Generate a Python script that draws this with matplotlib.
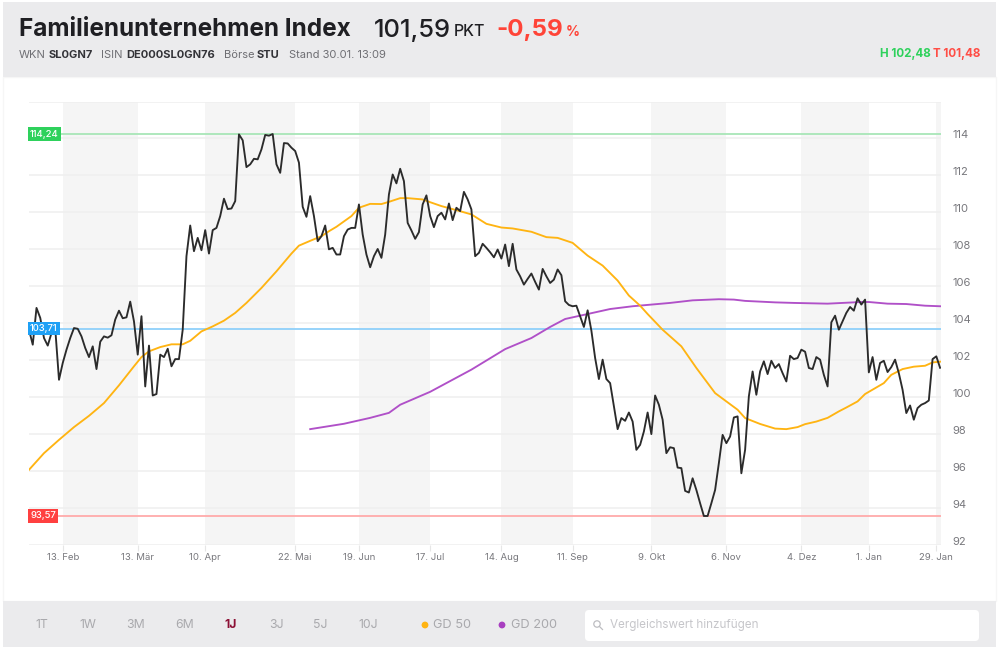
import matplotlib
matplotlib.use('Agg')
import matplotlib.pyplot as plt
from matplotlib.patches import Rectangle, FancyBboxPatch, Circle
from matplotlib.transforms import ScaledTranslation

plt.rcParams['font.family'] = ['Inter', 'DejaVu Sans']

close = [
    103.65, 102.84, 104.83, 104.29, 103.2, 102.79, 103.47, 103.7, 100.94, 101.85,
    102.57, 103.2, 103.74, 103.7, 103.29, 102.66, 102.17, 102.75, 101.52, 103.0,
    103.29, 103.22, 103.35, 104.2, 104.68, 104.27, 104.32, 105.17, 104.1, 102.3,
    104.38, 100.58, 102.79, 100.09, 100.17, 102.3, 102.17, 102.62, 101.67, 102.06,
    102.06, 103.65, 107.63, 109.29, 107.9, 108.62, 107.95, 109.04, 107.77, 109.04,
    109.16, 109.8, 110.74, 110.18, 110.21, 110.61, 114.22, 113.9, 112.45, 112.6,
    112.9, 112.87, 113.41, 114.19, 114.15, 114.24, 112.6, 112.14, 113.75, 113.73,
    113.5, 113.32, 112.69, 110.3, 109.76, 110.88, 109.8, 108.44, 108.71, 109.29,
    108.0, 108.08, 107.72, 107.72, 108.71, 109.07, 109.16, 109.16, 110.43, 108.8,
    107.72, 107.03, 107.63, 108.02, 107.54, 108.8, 110.97, 112.05, 111.57, 112.36,
    111.69, 109.43, 109.02, 108.57, 108.93, 110.43, 110.92, 109.8, 109.2, 109.8,
    109.98, 109.62, 110.48, 109.58, 110.25, 110.07, 111.11, 110.7, 110.16, 107.63,
    107.81, 108.3, 108.08, 107.84, 107.57, 107.99, 107.5, 108.26, 107.09, 108.3,
    106.91, 106.54, 106.09, 106.4, 106.69, 106.24, 105.82, 106.94, 106.54, 106.18,
    106.36, 106.91, 106.6, 105.19, 104.99, 104.92, 104.95, 104.38, 103.8, 104.7,
    103.6, 102.12, 100.98, 102.03, 100.98, 100.76, 99.5, 98.27, 98.87, 98.72,
    99.17, 98.68, 97.15, 97.42, 98.14, 99.17, 98.0, 100.09, 99.59, 98.78,
    96.97, 97.29, 97.24, 96.19, 96.16, 94.93, 94.84, 95.61, 94.98, 94.26,
    93.57, 93.57, 94.26, 94.98, 96.43, 97.96, 97.51, 97.87, 98.9, 98.96,
    95.88, 97.15, 100.04, 101.39, 100.13, 101.39, 101.94, 101.25, 101.97, 101.58,
    101.79, 101.3, 100.85, 102.24, 102.06, 102.12, 102.57, 102.46, 101.58, 101.52,
    102.17, 102.03, 101.21, 100.58, 104.05, 104.41, 103.65, 104.1, 104.56, 104.88,
    104.68, 105.35, 105.01, 105.28, 101.34, 102.17, 100.94, 101.85, 101.97, 101.36,
    101.63, 102.03, 101.3, 100.4, 99.14, 99.55, 98.78, 99.41, 99.59, 99.68,
    99.82, 102.06, 102.21, 101.59,
]

gd50_days = [
    0, 4, 8, 12, 16, 20, 24, 28, 30, 32, 35, 38, 41, 43, 46, 49, 52, 55, 58, 62,
    66, 70, 72, 75, 78, 80, 82, 86, 88, 91, 94, 96, 99, 101, 105, 107, 110, 114, 118, 122,
    126, 129, 134, 138, 141, 145, 149, 153, 157, 160, 163, 165, 169, 174, 178, 183, 189, 191, 195, 199,
    202, 205, 207, 210, 213, 216, 218, 221, 223, 228, 230, 233, 236, 239, 241, 243,
]
gd50 = [
    96.07, 96.97, 97.69, 98.38, 98.99, 99.68, 100.64, 101.67, 102.17, 102.48,
    102.71, 102.86, 102.86, 103.05, 103.56, 103.83, 104.14, 104.56, 105.1, 105.91,
    106.81, 107.77, 108.2, 108.46, 108.71, 108.98, 109.22, 109.8, 110.25, 110.46,
    110.45, 110.57, 110.77, 110.77, 110.7, 110.55, 110.34, 110.12, 109.89, 109.38,
    109.18, 109.13, 108.95, 108.66, 108.62, 108.35, 107.66, 107.12, 106.31, 105.5,
    104.95, 104.5, 103.65, 102.75, 101.58, 100.22, 99.32, 98.87, 98.55, 98.3,
    98.27, 98.38, 98.54, 98.68, 98.88, 99.23, 99.44, 99.77, 100.17, 100.76,
    101.21, 101.52, 101.65, 101.7, 101.88, 101.92,
]

gd200_days = [
    75, 84, 91, 96, 99, 107, 118, 127, 134, 139, 143, 149, 155, 161,
    171, 177, 184, 188, 191, 199, 204, 213, 222, 224, 229, 234, 239, 243,
]
gd200 = [
    98.27, 98.56, 98.88, 99.15, 99.59, 100.29, 101.49, 102.6, 103.2, 103.8, 104.23, 104.5, 104.77, 104.92,
    105.1, 105.24, 105.3, 105.28, 105.21, 105.13, 105.1, 105.06, 105.15, 105.15, 105.06, 105.04, 104.95, 104.92,
]

tick_days = [9, 29, 47, 71, 88, 107, 126, 145, 166, 186, 206, 224, 242]
tick_labels = ['13. Feb', '13. Mär', '10. Apr', '22. Mai', '19. Jun', '17. Jul', '14. Aug',
               '11. Sep', '9. Okt', '6. Nov', '4. Dez', '1. Jan', '29. Jan']
y_ticks = [92, 94, 96, 98, 100, 102, 104, 106, 108, 110, 112, 114, 116]
y_labels = ['92', '94', '96', '98', '100', '102', '104', '106', '108', '110', '112', '114', '']

high_line = 114.24
mid_line = 103.71
low_line = 93.57

fig = plt.figure(figsize=(10, 6.5), dpi=100, facecolor='white')

# page furniture, in pixels of the 1000x650 picture
bg = fig.add_axes([0, 0, 1, 1])
bg.set_xlim(0, 1000)
bg.set_ylim(650, 0)
bg.axis('off')
PANEL = '#ebebed'
bg.add_patch(Rectangle((3, 77), 993, 524, fc='white', ec='#f6f6f6', lw=1))
bg.add_patch(Rectangle((3, 2), 993, 75, fc=PANEL, ec='none'))
bg.add_patch(Rectangle((3, 601), 993, 46, fc=PANEL, ec='none'))

bg.text(19, 30, 'Familienunternehmen Index', fontsize=17.5, fontweight='bold', color='#1f1f23', va='center')
bg.text(374, 30, '101,59', fontsize=18.4, fontweight='medium', color='#1f1f23', va='center')
bg.text(454, 32, 'PKT', fontsize=11.4, fontweight='medium', color='#1f1f23', va='center')
bg.text(496, 30, '-0,59', fontsize=17.4, fontweight='bold', color='#ff4438', va='center')
bg.text(566, 32, '%', fontsize=10, fontweight='bold', color='#ff4438', va='center')

grey_txt = '#6e6e73'
dark_txt = '#333338'
for x, s, w in [(19, 'WKN', 'normal'), (49, 'SL0GN7', 'bold'), (101, 'ISIN', 'normal'),
                (126, 'DE000SL0GN76', 'bold'), (224, 'Börse', 'normal'), (257, 'STU', 'bold'),
                (289, 'Stand 30.01. 13:09', 'normal')]:
    bg.text(x, 55, s, fontsize=8, fontweight=w, color=dark_txt if w == 'bold' else grey_txt, va='center')

bg.text(880, 54, 'H 102,48', fontsize=8.4, fontweight='bold', color='#2ed15c', va='center')
bg.text(980, 54, 'T 101,48', fontsize=8.4, fontweight='bold', color='#ff4d45', va='center', ha='right')

for x, s in [(42, '1T'), (88, '1W'), (136, '3M'), (185, '6M'), (276, '3J'), (320, '5J'), (368, '10J')]:
    bg.text(x, 625, s, fontsize=8.8, color='#a9a9ad', ha='center', va='center')
bg.text(231, 625, '1J', fontsize=8.8, fontweight='bold', color='#8c1035', ha='center', va='center')

bg.add_patch(Circle((425, 625), 3.4, fc='#ffb412', ec='none'))
bg.text(433, 625, 'GD 50', fontsize=9.2, color='#a9a9ad', va='center')
bg.add_patch(Circle((502, 625), 3.4, fc='#a83fc0', ec='none'))
bg.text(511, 625, 'GD 200', fontsize=9.2, color='#a9a9ad', va='center')

bg.add_patch(FancyBboxPatch((588, 613), 388, 25, boxstyle='round,pad=3,rounding_size=4', fc='white', ec='none'))
bg.add_patch(Circle((597, 624), 3.2, fc='none', ec='#bdbdc1', lw=0.9))
bg.plot([599.5, 602.5], [626.5, 629.5], color='#bdbdc1', lw=0.9)
bg.text(610, 625, 'Vergleichswert hinzufügen', fontsize=8.4, color='#c6c6ca', va='center')

# chart area
ax = fig.add_axes([29 / 1000, 1 - 545 / 650, 912 / 1000, 443.5 / 650])
ax.patch.set_alpha(0)
ax.set_xlim(0, 243.25)
ax.set_ylim(92, 116)

for i in range(0, len(tick_days) - 1, 2):
    ax.axvspan(tick_days[i], tick_days[i + 1], color='#f5f5f5', lw=0, zorder=0)
ax.axvspan(tick_days[-1], 243.25, color='#f5f5f5', lw=0, zorder=0)

ax.set_yticks(y_ticks)
ax.set_yticklabels(y_labels)
ax.grid(axis='y', color='#f0f0f0', lw=1.2, zorder=1)
ax.set_axisbelow(True)
ax.set_xticks(tick_days)
ax.set_xticklabels(tick_labels)
ax.tick_params(axis='x', length=4.5, width=0.8, color='#e6e6e6', labelsize=6.9, labelcolor='#77777c', pad=1.5)
ax.tick_params(axis='y', length=0, labelsize=8, labelcolor='#77777c', pad=8.5, labelright=True, labelleft=False)
# y labels sit a little above their gridlines
lift = ScaledTranslation(0, 4 / 100, fig.dpi_scale_trans)
for tick in ax.yaxis.get_major_ticks():
    tick.label2.set_transform(tick.label2.get_transform() + lift)
for side in ax.spines:
    ax.spines[side].set_visible(False)

ax.axhline(high_line, color='#a8e6b8', lw=1.3, zorder=2)
ax.axhline(mid_line, color='#8fd0fa', lw=1.3, zorder=2)
ax.axhline(low_line, color='#ffaaaa', lw=1.3, zorder=2)

ax.plot(gd200_days, gd200, color='#b050c8', lw=1.35, zorder=3)
ax.plot(gd50_days, gd50, color='#ffb412', lw=1.35, zorder=4)
ax.plot(range(len(close)), close, color='#2b2b2b', lw=1.35, zorder=5)

for val, col, txt in [(high_line, '#2ed15c', '114,24'), (mid_line, '#1ea0f5', '103,71'), (low_line, '#ff4040', '93,57')]:
    ax.text(0.3, val, txt, fontsize=6.8, fontweight='medium', color='white', va='center', ha='left', zorder=6,
            bbox=dict(boxstyle='square,pad=0.22', fc=col, ec='none'))

fig.savefig('out.png', dpi=100)
